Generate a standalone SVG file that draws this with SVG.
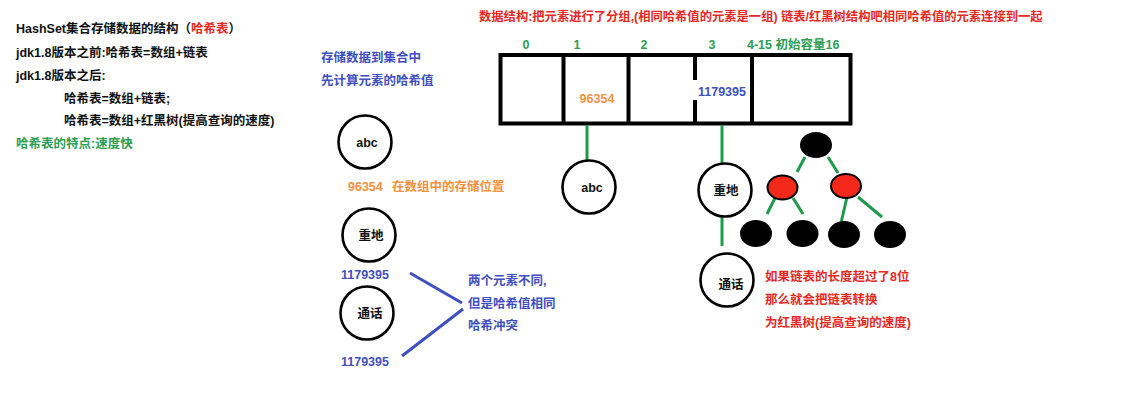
<svg xmlns="http://www.w3.org/2000/svg" width="1125" height="409" viewBox="0 0 1125 409">
<style>
text{font-family:"Liberation Sans","Noto Sans CJK SC",sans-serif;font-weight:bold;font-size:12.5px}
.k{fill:#111}
.r{fill:#e5291f}
.g{fill:#2e9d50}
.o{fill:#f5903c}
.b{fill:#3f4fbf}
.node{fill:#fff;stroke:#000;stroke-width:2.6}
.gl{stroke:#1f9a4a;stroke-width:3;fill:none}
.bl{stroke:#3f4fbf;stroke-width:3;fill:none}
.blk{fill:#000}
.red{fill:#f5281c;stroke:#000;stroke-width:2}
.m{text-anchor:middle}
</style>
<rect width="1125" height="409" fill="#fff"/>
<g id="notes-left">
<text class="k" x="16" y="33">HashSet集合存储数据的结构（<tspan class="r">哈希表</tspan>）</text>
<text class="k" x="16" y="57">jdk1.8版本之前:哈希表=数组+链表</text>
<text class="k" x="16" y="80">jdk1.8版本之后:</text>
<text class="k" x="64" y="103">哈希表=数组+链表;</text>
<text class="k" x="64" y="125">哈希表=数组+红黑树(提高查询的速度)</text>
<text class="g" x="16" y="148">哈希表的特点:速度快</text>
</g>
<g id="note-top">
<text class="r" x="479" y="21" style="font-size:12.3px">数据结构:把元素进行了分组,(相同哈希值的元素是一组) 链表/红黑树结构吧相同哈希值的元素连接到一起</text>
</g>
<g id="note-store">
<text class="b" x="321" y="62">存储数据到集合中</text>
<text class="b" x="321" y="85">先计算元素的哈希值</text>
</g>
<g id="array">
<rect x="500.5" y="55" width="350" height="68.5" fill="none" stroke="#000" stroke-width="4"/>
<line x1="563.5" y1="55" x2="563.5" y2="123.5" stroke="#000" stroke-width="4"/>
<line x1="628.5" y1="55" x2="628.5" y2="123.5" stroke="#000" stroke-width="4"/>
<line x1="695" y1="55" x2="695" y2="123.5" stroke="#000" stroke-width="4"/>
<line x1="752" y1="55" x2="752" y2="123.5" stroke="#000" stroke-width="4"/>
<text class="g m" x="526" y="49">0</text>
<text class="g m" x="577" y="49">1</text>
<text class="g m" x="644" y="49">2</text>
<text class="g m" x="712" y="49">3</text>
<text class="g" x="747" y="49">4-15 初始容量16</text>
<text class="o m" x="597" y="103">96354</text>
<rect x="693" y="80" width="56" height="20" fill="#fff"/>
<text class="b" x="698" y="96">1179395</text>
</g>
<g id="connectors">
<line class="gl" x1="587" y1="125" x2="587" y2="160"/>
<line class="gl" x1="722" y1="125" x2="722" y2="163"/>
<line class="gl" x1="722" y1="217" x2="722" y2="246"/>
<line class="gl" x1="805" y1="157" x2="797" y2="172"/>
<line class="gl" x1="828" y1="157" x2="838" y2="173"/>
<line class="gl" x1="775" y1="198" x2="767" y2="214"/>
<line class="gl" x1="793" y1="198" x2="803" y2="214"/>
<line class="gl" x1="847" y1="197" x2="841" y2="223"/>
<line class="gl" x1="858" y1="197" x2="882" y2="217"/>
<line class="bl" x1="410" y1="273" x2="462" y2="303"/>
<line class="bl" x1="402" y1="356" x2="463" y2="309"/>
</g>
<g id="node-abc">
<circle class="node" cx="365" cy="142" r="26.5"/>
<text class="k m" x="367" y="147">abc</text>
</g>
<g id="label-abc">
<text class="o" x="348" y="191">96354</text>
<text class="o" x="392" y="191">在数组中的存储位置</text>
</g>
<g id="node-zhongdi">
<circle class="node" cx="369" cy="235" r="26.5"/>
<text class="k m" x="371" y="240">重地</text>
<text class="b" x="341" y="279">1179395</text>
</g>
<g id="node-tonghua">
<circle class="node" cx="367" cy="313" r="26.5"/>
<text class="k m" x="370" y="318">通话</text>
<text class="b" x="341" y="366">1179395</text>
</g>
<g id="note-collision">
<text class="b" x="468" y="285">两个元素不同,</text>
<text class="b" x="468" y="308">但是哈希值相同</text>
<text class="b" x="468" y="330">哈希冲突</text>
</g>
<g id="node-abc-2">
<circle class="node" cx="589" cy="187" r="26.5"/>
<text class="k m" x="592" y="192">abc</text>
</g>
<g id="node-zhongdi-2">
<circle class="node" cx="725" cy="190" r="26.5"/>
<text class="k m" x="726" y="195">重地</text>
</g>
<g id="node-tonghua-2">
<circle class="node" cx="727" cy="280" r="26.5"/>
<text class="k m" x="731" y="289">通话</text>
</g>
<g id="tree">
<ellipse class="blk" cx="816" cy="145" rx="16" ry="13"/>
<ellipse class="red" cx="782.5" cy="187.5" rx="15" ry="12"/>
<ellipse class="red" cx="846" cy="186" rx="15" ry="12"/>
<ellipse class="blk" cx="756" cy="233.5" rx="16" ry="13.5"/>
<ellipse class="blk" cx="802.5" cy="233.5" rx="16" ry="13.5"/>
<ellipse class="blk" cx="844" cy="234.5" rx="16" ry="13.5"/>
<ellipse class="blk" cx="890" cy="234.5" rx="16" ry="13.5"/>
</g>
<g id="note-tree">
<text class="r" x="765" y="281">如果链表的长度超过了8位</text>
<text class="r" x="765" y="304">那么就会把链表转换</text>
<text class="r" x="765" y="327">为红黑树(提高查询的速度)</text>
</g>
</svg>
